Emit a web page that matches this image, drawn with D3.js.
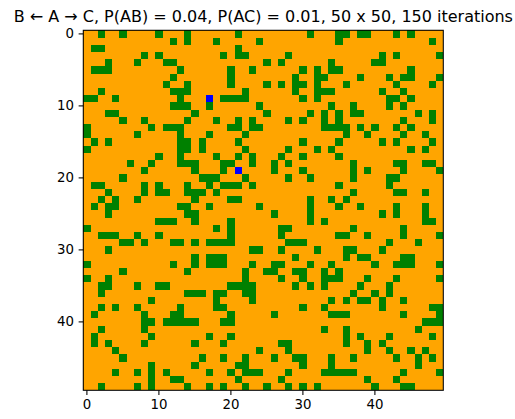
<!DOCTYPE html>
<html>
<head>
<meta charset="utf-8">
<script src="https://cdn.jsdelivr.net/npm/d3@7"></script>
<style>
  html, body { margin: 0; padding: 0; background: #fff; }
  svg { display: block; }
  text { font-family: "DejaVu Sans", sans-serif; }
</style>
</head>
<body>
<div id="chart"></div>
<script>
// ---- data ----
const titleText = "B \u2190 A \u2192 C, P(AB) = 0.04, P(AC) = 0.01, 50 x 50, 150 iterations";
const gridSize = 50;
const tickValues = [0, 10, 20, 30, 40];
const stateColors = { empty: "#FFA500", B: "#008000", C: "#0000FF" };
// column indices of green (B) cells in each row, row 0 at the top
const greenByRow = [
  [2,5,10,14,21,31,35,36,38,39,43,45],
  [12,14,18,24,35,48],
  [1,2,21],
  [8,10,19,21,22,28,41,43,49],
  [3,7,11,12,25,27,34,40,41],
  [1,2,3,13,20,23,30,32,34,35,45],
  [12,20,29,32,33,38,42,44,45,49],
  [11,14,20,25,27,29,30,32,36,43,48],
  [2,12,13,14,22,29,32,33,34,41,44],
  [0,1,4,13,19,20,21,22,30,32,42,43,45],
  [12,13,14,17,24,34,37,42,44],
  [3,4,15,25,31,33,35,37,38,46,48],
  [5,8,14,18,21,23,28,30,33,35,44,48],
  [0,9,11,12,13,20,21,23,24,33,34,35,36,38,40,43,45],
  [0,7,13,17,22,36,39,44,47],
  [1,3,13,14,16,21,30,35,41,43,48],
  [0,13,14,16,22,28,32,34,45,47],
  [10,13,18,21,23,27,30,35],
  [6,9,13,14,15,19,20,23,26,28,37,43,44,47,48],
  [8,15,19,26,30,37,39,44,49],
  [5,16,17,18,22,28,31,37,42,43],
  [1,2,8,10,14,17,19,20,21,23,35,42],
  [3,8,10,11,14,15,16,18,37,43,44,47],
  [2,4,7,15,20,21,31,34,36],
  [1,3,4,13,14,17,24,31,35,38,43,47],
  [3,14,15,26,31,41,43,47],
  [10,11,12,15,20,31,33,47,48],
  [0,18,20,27,28,37,44],
  [2,3,4,7,10,20,27,35,36,39,44,49],
  [5,6,8,12,13,15,17,18,19,20,28,29,30,42,46],
  [3,23,24,27,32,36,37,41],
  [15,17,18,19,29,36,38,39,44,45],
  [0,12,15,17,18,19,23,26,27,31,34,40,43,44,45,49],
  [5,14,22,25,26,29,30,33,35],
  [0,3,22,27,30,33,34,35,39,43,49],
  [2,3,7,10,11,20,21,22,23,29,31,33,38,42],
  [2,14,15,16,18,19,22,23,37,40,42],
  [9,18,23,34,36,38,39,41,44],
  [2,4,7,13,18,19,30,33,41,48,49],
  [1,8,12,13,20,26,34,35,36,44,49],
  [8,9,11,12,13,14,15,19,20,47,48,49],
  [2,8,33,36,46],
  [1,9,17,20,36,38,42,48],
  [1,3,8,15,19,27,28,36,39,41],
  [4,24,28,39,42,45,47],
  [5,16,19,22,26,29,30,34,37,43,46,48],
  [9,15,21,22,30,34,46],
  [4,7,9,11,17,20,22,23,24,28,33,34,35,36,37,44,49],
  [9,12,13,21,27,39,43],
  [2,7,9,14,17,19,22,25,28,30,32,40,44,45]
];
// blue (C) cells as [column, row]
const blueCells = [[17, 9], [21, 19]];

// ---- drawing ----
const W = 515, H = 419;
const plotLeft = 83.3, plotTop = 30.3, side = 360;
const svg = d3.select("#chart").append("svg").attr("width", W).attr("height", H);

const idx = d3.range(gridSize);
const xs = d3.scaleBand().domain(idx).range([plotLeft, plotLeft + side]).padding(0);
const ys = d3.scaleBand().domain(idx).range([plotTop, plotTop + side]).padding(0);

const cells = [];
idx.forEach(r => idx.forEach(c => cells.push({ r, c, s: "empty" })));
greenByRow.forEach((cols, r) => cols.forEach(c => { cells[r * gridSize + c].s = "B"; }));
blueCells.forEach(([c, r]) => { cells[r * gridSize + c].s = "C"; });

svg.append("g")
  .selectAll("rect")
  .data(cells)
  .join("rect")
  .attr("x", d => xs(d.c))
  .attr("y", d => ys(d.r))
  .attr("width", xs.bandwidth() + 0.02)
  .attr("height", ys.bandwidth() + 0.02)
  .attr("fill", d => stateColors[d.s])
  .attr("shape-rendering", "crispEdges");

// frame
svg.append("rect")
  .attr("x", plotLeft).attr("y", plotTop)
  .attr("width", side).attr("height", side)
  .attr("fill", "none").attr("stroke", "#000").attr("stroke-width", 1.07);

const tickLen = 4.67, tickPad = 4.67, tickFont = 13.33;

const xAxis = svg.append("g")
  .attr("transform", `translate(0,${plotTop + side})`)
  .call(d3.axisBottom(xs).tickValues(tickValues).tickSize(tickLen).tickPadding(tickPad));
const yAxis = svg.append("g")
  .attr("transform", `translate(${plotLeft},0)`)
  .call(d3.axisLeft(ys).tickValues(tickValues).tickSize(tickLen).tickPadding(tickPad));

[xAxis, yAxis].forEach(g => {
  g.select(".domain").remove();
  g.selectAll(".tick line").attr("stroke", "#000").attr("stroke-width", 1.07);
  g.selectAll(".tick text")
    .attr("fill", "#000")
    .style("font-family", "'DejaVu Sans', sans-serif")
    .style("font-size", tickFont + "px");
});

svg.append("text")
  .attr("x", plotLeft + side / 2)
  .attr("y", plotTop - 8.2)
  .attr("text-anchor", "middle")
  .attr("fill", "#000")
  .style("font-family", "'DejaVu Sans', sans-serif")
  .style("font-size", "16px")
  .text(titleText);
</script>
</body>
</html>
